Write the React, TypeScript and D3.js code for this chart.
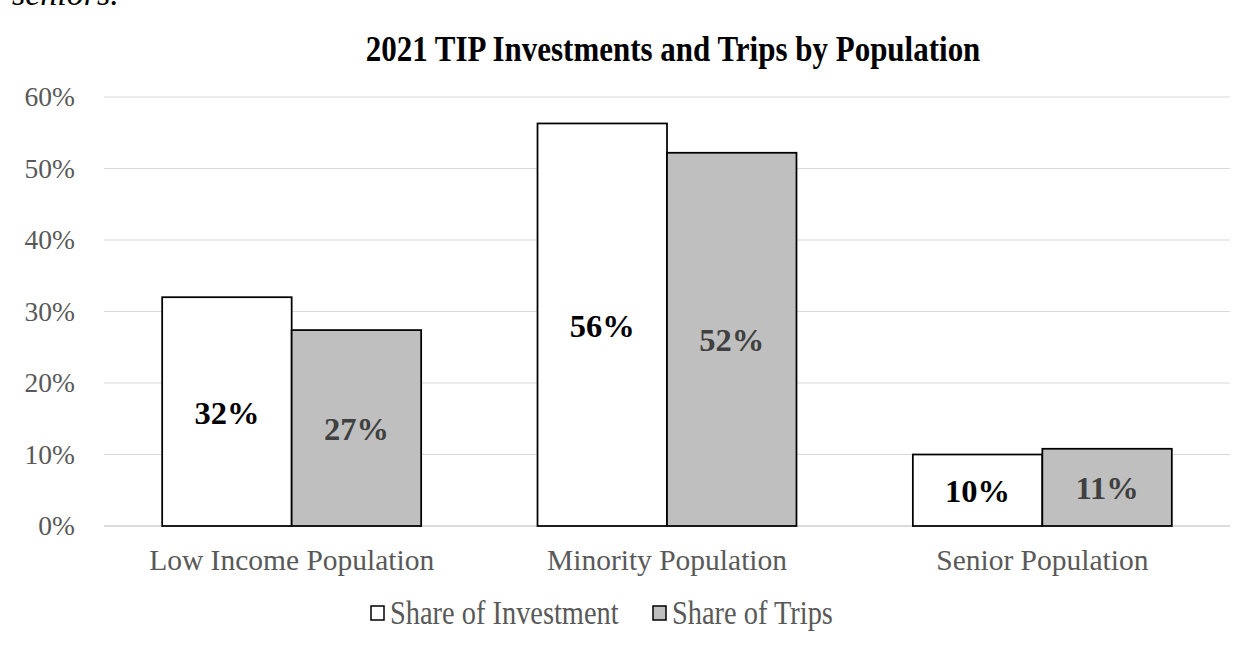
import * as d3 from "d3";
import { useEffect, useRef } from "react";

const CATEGORIES = ["Low Income Population", "Minority Population", "Senior Population"];
const SERIES = ["Share of Investment", "Share of Trips"];
const INVESTMENT = [0.32, 0.563, 0.10];
const TRIPS = [0.274, 0.522, 0.108];
const Y_TICKS = [0, 0.1, 0.2, 0.3, 0.4, 0.5, 0.6];

const FONT = "'Times New Roman', 'Liberation Serif', serif";

type Sel = d3.Selection<SVGGElement, unknown, null, undefined>;

// text that can be stretched vertically a bit, like the reference
function label(
  g: Sel,
  x: number,
  y: number,
  str: string,
  o: { size: number; fill?: string; weight?: string; anchor?: string; sy?: number; style?: string }
) {
  const t = g.append("g").attr("transform", `translate(${x},${y}) scale(1,${o.sy ?? 1})`);
  return t.append("text")
    .attr("text-anchor", o.anchor ?? "middle")
    .attr("font-family", FONT)
    .attr("font-size", o.size)
    .attr("font-weight", o.weight ?? "normal")
    .attr("font-style", o.style ?? "normal")
    .attr("fill", o.fill ?? "#000")
    .text(str);
}

export default function App() {
  const ref = useRef<SVGSVGElement | null>(null);

  useEffect(() => {
    if (!ref.current) return;
    const width = 1248;
    const height = 650;
    const margin = { top: 97, right: 18, bottom: 124, left: 104 };
    const svg = d3.select(ref.current);
    svg.selectAll("*").remove();
    svg.attr("viewBox", `0 0 ${width} ${height}`);

    svg.append("rect").attr("width", width).attr("height", height).attr("fill", "#fff");
    const root = svg.append("g") as unknown as Sel;

    // leftover line of the page text above the chart
    label(root, 12, 5, "seniors.", { size: 34, anchor: "start", style: "italic" });

    const x0 = d3.scaleBand().domain(CATEGORIES)
      .range([margin.left, width - margin.right]).paddingInner(0.31).paddingOuter(0.155);
    const x1 = d3.scaleBand().domain(SERIES).range([0, x0.bandwidth()]);
    const y = d3.scaleLinear().domain([0, 0.6]).range([height - margin.bottom, margin.top]);
    const pct = d3.format(".0%");

    label(root, (margin.left + width - margin.right) / 2 + 6, 61,
      "2021 TIP Investments and Trips by Population",
      { size: 31, weight: "bold", sy: 1.15 });

    // gridlines
    root.append("g")
      .selectAll("line")
      .data(Y_TICKS)
      .join("line")
      .attr("x1", margin.left).attr("x2", width - margin.right)
      .attr("y1", (d) => y(d)).attr("y2", (d) => y(d))
      .attr("stroke", (d) => (d === 0 ? "#d0d0d0" : "#d9d9d9"))
      .attr("stroke-width", (d) => (d === 0 ? 1.5 : 1));

    // y tick labels
    const yt = root.append("g") as unknown as Sel;
    Y_TICKS.forEach((t) => {
      label(yt, 75, y(t) + 9, pct(t), { size: 27.5, anchor: "end", fill: "#595959" });
    });

    const fills = ["#ffffff", "#bfbfbf"];
    const labelColors = ["#000000", "#404040"];
    const rows = CATEGORIES.map((c, i) => ({ cat: c, vals: [INVESTMENT[i], TRIPS[i]] }));

    rows.forEach((r) => {
      const g = root.append("g").attr("transform", `translate(${x0(r.cat)},0)`) as unknown as Sel;
      r.vals.forEach((v, j) => {
        const bx = x1(SERIES[j]) ?? 0;
        g.append("rect")
          .attr("x", bx)
          .attr("y", y(v))
          .attr("width", x1.bandwidth())
          .attr("height", y(0) - y(v))
          .attr("fill", fills[j])
          .attr("stroke", "#000")
          .attr("stroke-width", 1.75);
        label(g, bx + x1.bandwidth() / 2, (y(v) + y(0)) / 2 + 12, pct(v),
          { size: 32.5, weight: "bold", fill: labelColors[j] });
      });
      label(root, (x0(r.cat) ?? 0) + x0.bandwidth() / 2, 570, r.cat,
        { size: 29.5, fill: "#595959", sy: 1.03 });
    });

    // legend
    const legendX = [371, 653];
    SERIES.forEach((s, i) => {
      const g = root.append("g").attr("transform", `translate(${legendX[i]},0)`) as unknown as Sel;
      g.append("rect")
        .attr("x", 0).attr("y", 606)
        .attr("width", 13).attr("height", 14)
        .attr("fill", fills[i]).attr("stroke", "#000").attr("stroke-width", 1.5);
      label(g, 19, 624, s, { size: 28.4, anchor: "start", fill: "#595959", sy: 1.15 });
    });
  }, []);

  return (
    <svg
      ref={ref}
      width={1248}
      height={650}
      style={{ position: "fixed", left: 0, top: 0, display: "block" }}
    />
  );
}
